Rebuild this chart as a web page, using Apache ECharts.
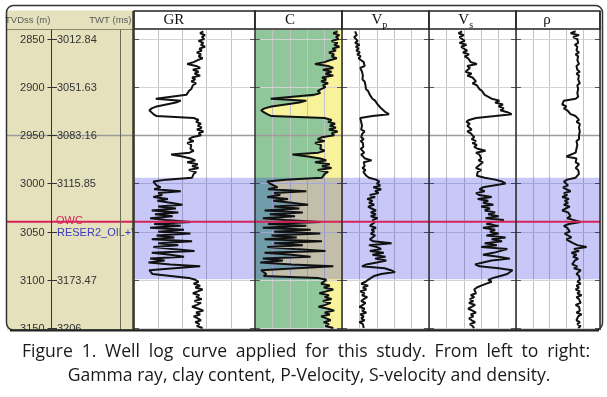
<!DOCTYPE html>
<html>
<head>
<meta charset="utf-8">
<script src="https://cdn.jsdelivr.net/npm/echarts@6.0.0/dist/echarts.min.js"></script>
<style>
html,body{margin:0;padding:0;background:#ffffff;}
#chart{width:607px;height:397px;}
</style>
</head>
<body>
<div id="chart"></div>
<script>
// ---------------- DATA ----------------
// depth samples: every 2 m from 2842 m to 3150 m (TVDss)
const DEPTH_TOP = 2842;
const DEPTH_STEP = 2;

// Gamma ray (API)
const GR = [
 86,82,88,84,87, 80,86,83,88,81, 84,78,83,80,85, 79,74,66,77,82,
 73,80,75,82,72, 76,71,77,73,75, 71,68,70,65,64, 27,58,52,40,28,
 22,19,21,24,28, 74,80,77,83,79, 84,78,86,80,83, 72,68,74,66,71,
 73,70,74,69,46, 60,70,76,66,79, 72,80,68,77,74, 76,72,40,24,26,
 28,33,25,58,30, 35,24,42,29,45, 60,30,52,22,55, 26,48,20,40,70,
 25,58,20,62,30, 70,28,50,22,72, 30,55,24,48,75, 22,45,62,20,38,
 18,45,82,50,19, 20,23,21,68,76, 80,74,82,76,85, 79,73,81,77,84,
 75,83,78,72,80, 86,77,82,74,79, 83,76,81,78,85
];
// Clay content (v/v)
const CLAY = [
 0.95,0.90,0.97,0.93,0.96, 0.88,0.95,0.91,0.97,0.89, 0.93,0.85,0.91,0.88,0.94, 0.86,0.80,0.69,0.84,0.90,
 0.78,0.88,0.81,0.90,0.77, 0.82,0.76,0.84,0.78,0.81, 0.76,0.72,0.75,0.68,0.67, 0.18,0.59,0.51,0.35,0.19,
 0.11,0.07,0.10,0.14,0.19, 0.80,0.88,0.84,0.92,0.86, 0.93,0.85,0.95,0.88,0.91, 0.77,0.72,0.80,0.69,0.76,
 0.78,0.75,0.80,0.73,0.43, 0.61,0.75,0.82,0.69,0.86, 0.77,0.88,0.72,0.84,0.80, 0.82,0.77,0.35,0.14,0.17,
 0.19,0.26,0.15,0.59,0.22, 0.29,0.14,0.38,0.21,0.42, 0.61,0.22,0.51,0.11,0.55, 0.17,0.46,0.09,0.35,0.75,
 0.15,0.59,0.09,0.64,0.22, 0.75,0.19,0.48,0.11,0.77, 0.22,0.55,0.14,0.46,0.81, 0.11,0.42,0.64,0.09,0.32,
 0.06,0.42,0.90,0.48,0.07, 0.09,0.13,0.10,0.72,0.82, 0.84,0.76,0.86,0.79,0.90, 0.82,0.74,0.85,0.80,0.88,
 0.78,0.87,0.81,0.73,0.84, 0.91,0.80,0.86,0.76,0.82, 0.87,0.79,0.85,0.81,0.90
];
// P-wave velocity (m/s)
const VP = [
 2300,2260,2340,2280,2320, 2360,2300,2400,2320,2380, 2330,2410,2350,2430,2380, 2440,2500,2460,2520,2420,
 2400,2460,2420,2480,2440, 2470,2520,2490,2540,2500, 2550,2600,2580,2640,2620, 2700,2760,2740,2820,2860,
 2900,2950,3000,3080,2700, 2420,2380,2440,2400,2460, 2500,2440,2520,2470,2510, 2440,2500,2430,2480,2450,
 2490,2430,2470,2510,2440, 2480,2530,2680,2500,2460, 2520,2470,2540,2490,2530, 2560,2620,2780,2860,2800,
 2880,2720,2900,2760,2840, 2640,2760,2580,2700,2620, 2740,2600,2680,2780,2660, 2780,2660,2820,2700,2760,
 2720,2640,2780,2680,2740, 2660,2760,2700,2640,2720, 3140,2620,2800,2900,2640, 2960,2700,3000,2760,3020,
 2800,2560,2460,2980,3120, 3220,2900,2740,2720,2600, 2540,2440,2600,2480,2560, 2420,2520,2460,2580,2500,
 2440,2540,2480,2400,2520, 2460,2560,2420,2500,2440, 2520,2400,2480,2440,2500
];
// S-wave velocity (m/s)
const VS = [
 1180,1140,1200,1150,1170, 1210,1150,1230,1170,1200, 1240,1190,1260,1210,1250, 1230,1280,1350,1240,1270,
 1260,1220,1290,1240,1300, 1310,1340,1300,1350,1330, 1380,1410,1390,1440,1450, 1520,1610,1560,1650,1600,
 1660,1620,1700,1750,1560, 1340,1260,1230,1270,1240, 1250,1290,1240,1280,1260, 1320,1290,1340,1300,1350,
 1320,1360,1450,1340,1380, 1360,1400,1370,1420,1390, 1380,1340,1400,1360,1380, 1350,1440,1560,1640,1680,
 1660,1420,1380,1440,1340, 1380,1520,1360,1480,1420, 1540,1400,1500,1440,1560, 1480,1600,1450,1660,1540,
 1460,1600,1420,1560,1500, 1600,1460,1680,1520,1640, 1440,1580,1400,1700,1720, 1540,1420,1600,1730,1520,
 1420,1330,1380,1600,1760, 1770,1700,1620,1540,1480, 1520,1460,1400,1350,1320, 1300,1340,1280,1320,1270,
 1310,1260,1330,1290,1250, 1300,1340,1280,1310,1260, 1290,1330,1270,1300,1320
];
// Bulk density (g/cc)
const RHO = [
 2.31,2.25,2.35,2.28,2.33, 2.31,2.34,2.30,2.33,2.31, 2.32,2.35,2.31,2.34,2.32, 2.33,2.31,2.35,2.32,2.34,
 2.33,2.36,2.32,2.35,2.33, 2.34,2.32,2.36,2.33,2.35, 2.34,2.36,2.33,2.35,2.34, 2.31,2.17,2.19,2.15,2.20,
 2.17,2.21,2.19,2.25,2.31, 2.33,2.35,2.32,2.36,2.34, 2.35,2.33,2.36,2.34,2.35, 2.33,2.35,2.32,2.34,2.33,
 2.35,2.32,2.34,2.31,2.33, 2.20,2.32,2.34,2.31,2.35, 2.33,2.31,2.34,2.32,2.35, 2.33,2.31,2.21,2.17,2.19,
 2.22,2.16,2.20,2.25,2.17, 2.21,2.15,2.23,2.18,2.22, 2.17,2.24,2.19,2.15,2.22, 2.20,2.25,2.21,2.29,2.37,
 2.23,2.17,2.21,2.19,2.24, 2.18,2.22,2.26,2.20,2.24, 2.28,2.33,2.44,2.29,2.35, 2.26,2.32,2.28,2.34,2.30,
 2.31,2.27,2.33,2.29,2.37, 2.39,2.32,2.35,2.33,2.36, 2.33,2.37,2.32,2.35,2.31, 2.36,2.33,2.38,2.32,2.35,
 2.34,2.37,2.31,2.35,2.33, 2.36,2.32,2.38,2.34,2.35, 2.32,2.36,2.33,2.37,2.34
];

// depth-track tick labels
const DEPTH_TICKS = [2850, 2900, 2950, 3000, 3050, 3100, 3150];
const TWT_LABELS = ['3012.84', '3051.63', '3083.16', '3115.85', '', '3173.47', '3206'];
const TITLE_MAIN = ['GR', 'C', 'V', 'V', 'ρ'];
const TITLE_SUB = ['', '', 'p', 's', ''];
const HEADER_LEFT = 'TVDss (m)';
const HEADER_RIGHT = 'TWT (ms)';
// zone / contacts
const ZONE_TOP = 2994;
const ZONE_BOTTOM = 3099.5;
const ZONE_LABEL = 'RESER2_OIL+WATER';
const ZONE_LABEL_DEPTH = 3050;
const OWC_LABEL = 'OWC';
const OWC_DEPTH = 3039.6;
const MARKER_DEPTH = 2950;
const CAPTION = [
  'Figure 1. Well log curve applied for this study. From left to right:',
  'Gamma ray, clay content, P-Velocity, S-velocity and density.'
];

// ---------------- LAYOUT / STYLE ----------------
const DEPTHS = GR.map((_, i) => DEPTH_TOP + i * DEPTH_STEP);
const CURVES = [GR, CLAY, VP, VS, RHO];
const TRACKS = [
  { left: 134, right: 255, min: 0,    max: 150,  interval: 30 },
  { left: 255, right: 342, min: 0,    max: 1,    interval: 0.2 },
  { left: 342, right: 429, min: 2000, max: 4000, interval: 400 },
  { left: 429, right: 516, min: 800,  max: 1800, interval: 200 },
  { left: 516, right: 600, min: 1.6,  max: 2.6,  interval: 0.2 }
];
const TITLE_X = [163.5, 285, 371.5, 458.3, 543.3];
const SUB_X = [0, 0, 382.3, 469.3, 0];
const PLOT_TOP = 30, PLOT_H = 300;
const Y_MIN = 2840.66, Y_MAX = 3152.1;
const DEPTH_LEFT = 7, DEPTH_RIGHT = 133, AXIS_X = 51, RIGHT_EDGE = 600;
const SANS = '"Liberation Sans", Arial, sans-serif';
const SERIF = '"Liberation Serif", "Times New Roman", serif';
const CAP_FONT = '"Open Sans", sans-serif';
const CAP_SIZE = 17.6;
const BEIGE = '#e4e1bc', GREEN = '#90c79a', YELLOW = '#f8f29b', ZONE_FILL = 'rgba(5,5,222,0.22)';
const RED = '#d8235a', BLUE_TXT = '#3b3bc4';

const chart = echarts.init(document.getElementById('chart'), null, { renderer: 'canvas', width: 607, height: 397 });

const grids = [{ left: DEPTH_LEFT, top: PLOT_TOP, width: DEPTH_RIGHT - DEPTH_LEFT, height: PLOT_H }]
  .concat(TRACKS.map(t => ({ left: t.left, top: PLOT_TOP, width: t.right - t.left, height: PLOT_H })));

const xAxes = [{ gridIndex: 0, type: 'value', min: 0, max: 1, show: false }]
  .concat(TRACKS.map((t, i) => ({
    gridIndex: i + 1, type: 'value', min: t.min, max: t.max, interval: t.interval,
    axisLine: { show: false }, axisTick: { show: false }, axisLabel: { show: false },
    splitLine: { show: true, lineStyle: { color: '#c4c4c4', width: 1 } }, z: 2
  })));
const yAxes = grids.map((g, i) => ({
  gridIndex: i, type: 'value', inverse: true, min: Y_MIN, max: Y_MAX, show: false
}));

const series = [];

// clay fill (green left of the curve, yellow background right of it)
series.push({
  type: 'custom', xAxisIndex: 2, yAxisIndex: 2, z: 1, silent: true, clip: true, animation: false,
  data: CLAY.map((v, i) => [v, DEPTHS[i]]),
  renderItem: function (params, api) {
    if (params.dataIndex !== 0) return null;
    const cs = params.coordSys;
    const pts = CLAY.map((v, i) => api.coord([v, DEPTHS[i]]));
    const poly = [[cs.x, cs.y], [pts[0][0], cs.y]].concat(pts)
      .concat([[pts[pts.length - 1][0], cs.y + cs.height], [cs.x, cs.y + cs.height]]);
    return { type: 'polygon', shape: { points: poly }, style: { fill: GREEN } };
  }
});

TRACKS.forEach((t, k) => {
  const ai = k + 1;
  // horizontal depth lines with edge ticks
  series.push({
    type: 'custom', xAxisIndex: ai, yAxisIndex: ai, z: 2, silent: true, animation: false,
    data: DEPTH_TICKS.map(d => [t.min, d]),
    renderItem: function (params, api) {
      const cs = params.coordSys;
      const y = Math.round(api.coord([api.value(0), api.value(1)])[1]) + 0.5;
      return { type: 'group', children: [
        { type: 'line', shape: { x1: cs.x, y1: y, x2: cs.x + cs.width, y2: y }, style: { stroke: '#d4d4d4', lineWidth: 1 } },
        { type: 'line', shape: { x1: cs.x, y1: y, x2: cs.x + 5, y2: y }, style: { stroke: '#555', lineWidth: 1 } },
        { type: 'line', shape: { x1: cs.x + cs.width - 5, y1: y, x2: cs.x + cs.width, y2: y }, style: { stroke: '#555', lineWidth: 1 } }
      ] };
    }
  });
  // blue reservoir zone
  series.push({
    type: 'custom', xAxisIndex: ai, yAxisIndex: ai, z: 3, silent: true, animation: false,
    data: [[t.min, ZONE_TOP, ZONE_BOTTOM]],
    renderItem: function (params, api) {
      const cs = params.coordSys;
      const y0 = api.coord([api.value(0), api.value(1)])[1];
      const y1 = api.coord([api.value(0), api.value(2)])[1];
      return { type: 'rect', shape: { x: cs.x, y: y0, width: cs.width, height: y1 - y0 },
        style: { fill: ZONE_FILL } };
    }
  });
  // log curve
  series.push({
    type: 'line', xAxisIndex: ai, yAxisIndex: ai, z: 5, silent: true, animation: false,
    showSymbol: false, symbol: 'none',
    data: CURVES[k].map((v, i) => [v, DEPTHS[i]]),
    lineStyle: { color: '#111', width: 2 }
  });
});

// marker line at 2950 m across the whole panel
series.push({
  type: 'custom', xAxisIndex: 0, yAxisIndex: 0, z: 2, silent: true, clip: false, animation: false,
  data: [[0, MARKER_DEPTH]],
  renderItem: function (params, api) {
    const cs = params.coordSys;
    const y = Math.round(api.coord([0, api.value(1)])[1]) + 0.5;
    return { type: 'line', shape: { x1: cs.x, y1: y, x2: RIGHT_EDGE, y2: y }, style: { stroke: '#9c9c9c', lineWidth: 1.5 } };
  }
});

// depth / TWT labels
series.push({
  type: 'custom', xAxisIndex: 0, yAxisIndex: 0, z: 6, silent: true, clip: true, animation: false,
  data: DEPTH_TICKS.map(d => [0, d]),
  renderItem: function (params, api) {
    const i = params.dataIndex;
    const y = Math.round(api.coord([0, api.value(1)])[1]) + 0.5;
    const children = [
      { type: 'line', shape: { x1: AXIS_X - 3.5, y1: y, x2: AXIS_X + 6, y2: y }, style: { stroke: '#333', lineWidth: 1 } },
      { type: 'text', style: { text: String(DEPTH_TICKS[i]), x: AXIS_X - 6.5, y: y, align: 'right', textAlign: 'right',
        verticalAlign: 'middle', textVerticalAlign: 'middle', fontSize: 11, fontFamily: SANS, fill: '#333' } }
    ];
    if (TWT_LABELS[i]) {
      children.push({ type: 'text', style: { text: TWT_LABELS[i], x: AXIS_X + 6, y: y, align: 'left', textAlign: 'left',
        verticalAlign: 'middle', textVerticalAlign: 'middle', fontSize: 11, fontFamily: SANS, fill: '#333' } });
    }
    if (DEPTH_TICKS[i] === ZONE_LABEL_DEPTH) {
      children.push({ type: 'text', style: { text: ZONE_LABEL, x: AXIS_X + 6, y: y, align: 'left', textAlign: 'left',
        verticalAlign: 'middle', textVerticalAlign: 'middle', fontSize: 11, fontFamily: SANS, fill: BLUE_TXT } });
    }
    return { type: 'group', children: children };
  }
});

// OWC contact line and label
series.push({
  type: 'custom', xAxisIndex: 0, yAxisIndex: 0, z: 7, silent: true, clip: false, animation: false,
  data: [[0, OWC_DEPTH]],
  renderItem: function (params, api) {
    const cs = params.coordSys;
    const y = api.coord([0, api.value(1)])[1];
    return { type: 'group', children: [
      { type: 'line', shape: { x1: cs.x, y1: y, x2: RIGHT_EDGE, y2: y }, style: { stroke: RED, lineWidth: 2 } },
      { type: 'text', style: { text: OWC_LABEL, x: AXIS_X + 5, y: y - 1, align: 'left', textAlign: 'left',
        verticalAlign: 'middle', textVerticalAlign: 'middle', fontSize: 11, fontFamily: SANS, fill: RED } }
    ] };
  }
});

// ---------------- frame, headers, caption ----------------
const graphics = [];
graphics.push({ type: 'rect', z: 0, silent: true, shape: { x: DEPTH_LEFT, y: 10.5, width: DEPTH_RIGHT - DEPTH_LEFT, height: 320 }, style: { fill: BEIGE } });
graphics.push({ type: 'rect', z: 0, silent: true, shape: { x: TRACKS[1].left, y: PLOT_TOP, width: TRACKS[1].right - TRACKS[1].left, height: PLOT_H }, style: { fill: YELLOW } });
// depth track lines
graphics.push({ type: 'line', z: 10, silent: true, shape: { x1: DEPTH_LEFT, y1: 29.5, x2: DEPTH_RIGHT, y2: 29.5 }, style: { stroke: '#8c896c', lineWidth: 1 } });
graphics.push({ type: 'line', z: 10, silent: true, shape: { x1: AXIS_X + 0.5, y1: 29.5, x2: AXIS_X + 0.5, y2: 330 }, style: { stroke: '#333', lineWidth: 1 } });
graphics.push({ type: 'line', z: 10, silent: true, shape: { x1: 120.5, y1: 29.5, x2: 120.5, y2: 330 }, style: { stroke: '#6a6a5a', lineWidth: 1 } });
graphics.push({ type: 'text', z: 10, silent: true, style: { text: HEADER_LEFT, x: 5, y: 20.5, align: 'left', textAlign: 'left', verticalAlign: 'middle', textVerticalAlign: 'middle', fontSize: 9.5, fontFamily: SANS, fill: '#5a5a5a' } });
graphics.push({ type: 'text', z: 10, silent: true, style: { text: HEADER_RIGHT, x: 131.5, y: 20.5, align: 'right', textAlign: 'right', verticalAlign: 'middle', textVerticalAlign: 'middle', fontSize: 9.5, fontFamily: SANS, fill: '#5a5a5a' } });
// track headers
TRACKS.forEach((t, k) => {
  graphics.push({ type: 'rect', z: 10, silent: true, shape: { x: t.left, y: 11, width: t.right - t.left, height: 18 }, style: { fill: '#fff', stroke: '#222', lineWidth: 1.5 } });
  graphics.push({ type: 'text', z: 11, silent: true, style: { text: TITLE_MAIN[k], x: TITLE_X[k], y: 20.5, align: 'left', textAlign: 'left', verticalAlign: 'middle', textVerticalAlign: 'middle', fontSize: 15, fontFamily: SERIF, fill: '#111' } });
  if (TITLE_SUB[k]) {
    graphics.push({ type: 'text', z: 11, silent: true, style: { text: TITLE_SUB[k], x: SUB_X[k], y: 25, align: 'left', textAlign: 'left', verticalAlign: 'middle', textVerticalAlign: 'middle', fontSize: 10, fontFamily: SERIF, fill: '#111' } });
  }
});
// track borders
[TRACKS[1].left, TRACKS[2].left, TRACKS[3].left, TRACKS[4].left, RIGHT_EDGE].forEach(x => {
  graphics.push({ type: 'line', z: 10, silent: true, shape: { x1: x, y1: 11, x2: x, y2: 330 }, style: { stroke: '#2a2a2a', lineWidth: 1.5 } });
});
graphics.push({ type: 'line', z: 10, silent: true, shape: { x1: 133.5, y1: 11, x2: 133.5, y2: 330 }, style: { stroke: '#3a3a2c', lineWidth: 2.5 } });
// white cover under the frame, frame
graphics.push({ type: 'rect', z: 12, silent: true, shape: { x: 0, y: 331, width: 607, height: 8 }, style: { fill: '#fff' } });
graphics.push({ type: 'rect', z: 13, silent: true, shape: { x: 6.5, y: 5.5, width: 596, height: 324.5, r: 7 }, style: { fill: 'none', stroke: '#333', lineWidth: 1.5 } });
graphics.push({ type: 'line', z: 13, silent: true, shape: { x1: 10, y1: 330.5, x2: 599, y2: 330.5 }, style: { stroke: '#222', lineWidth: 2 } });

// caption: first line justified between x=22 and x=590, second line centred
(function () {
  const ctx = document.createElement('canvas').getContext('2d');
  ctx.font = CAP_SIZE + 'px ' + CAP_FONT;
  const words = CAPTION[0].split(' ');
  const widths = words.map(w => ctx.measureText(w).width);
  const total = widths.reduce((a, b) => a + b, 0);
  const x0 = 22, x1 = 590;
  const gap = (x1 - x0 - total) / (words.length - 1);
  let x = x0;
  words.forEach((w, i) => {
    graphics.push({ type: 'text', z: 10, silent: true, style: { text: w, x: x, y: 352, align: 'left', textAlign: 'left', verticalAlign: 'middle', textVerticalAlign: 'middle', fontSize: CAP_SIZE, fontFamily: CAP_FONT, fill: '#1a1a1a' } });
    x += widths[i] + gap;
  });
  graphics.push({ type: 'text', z: 10, silent: true, style: { text: CAPTION[1], x: 309, y: 375.5, align: 'center', textAlign: 'center', verticalAlign: 'middle', textVerticalAlign: 'middle', fontSize: CAP_SIZE, fontFamily: CAP_FONT, fill: '#1a1a1a' } });
})();

chart.setOption({
  animation: false,
  backgroundColor: '#ffffff',
  grid: grids,
  xAxis: xAxes,
  yAxis: yAxes,
  series: series,
  graphic: { elements: graphics }
});
</script>
</body>
</html>
